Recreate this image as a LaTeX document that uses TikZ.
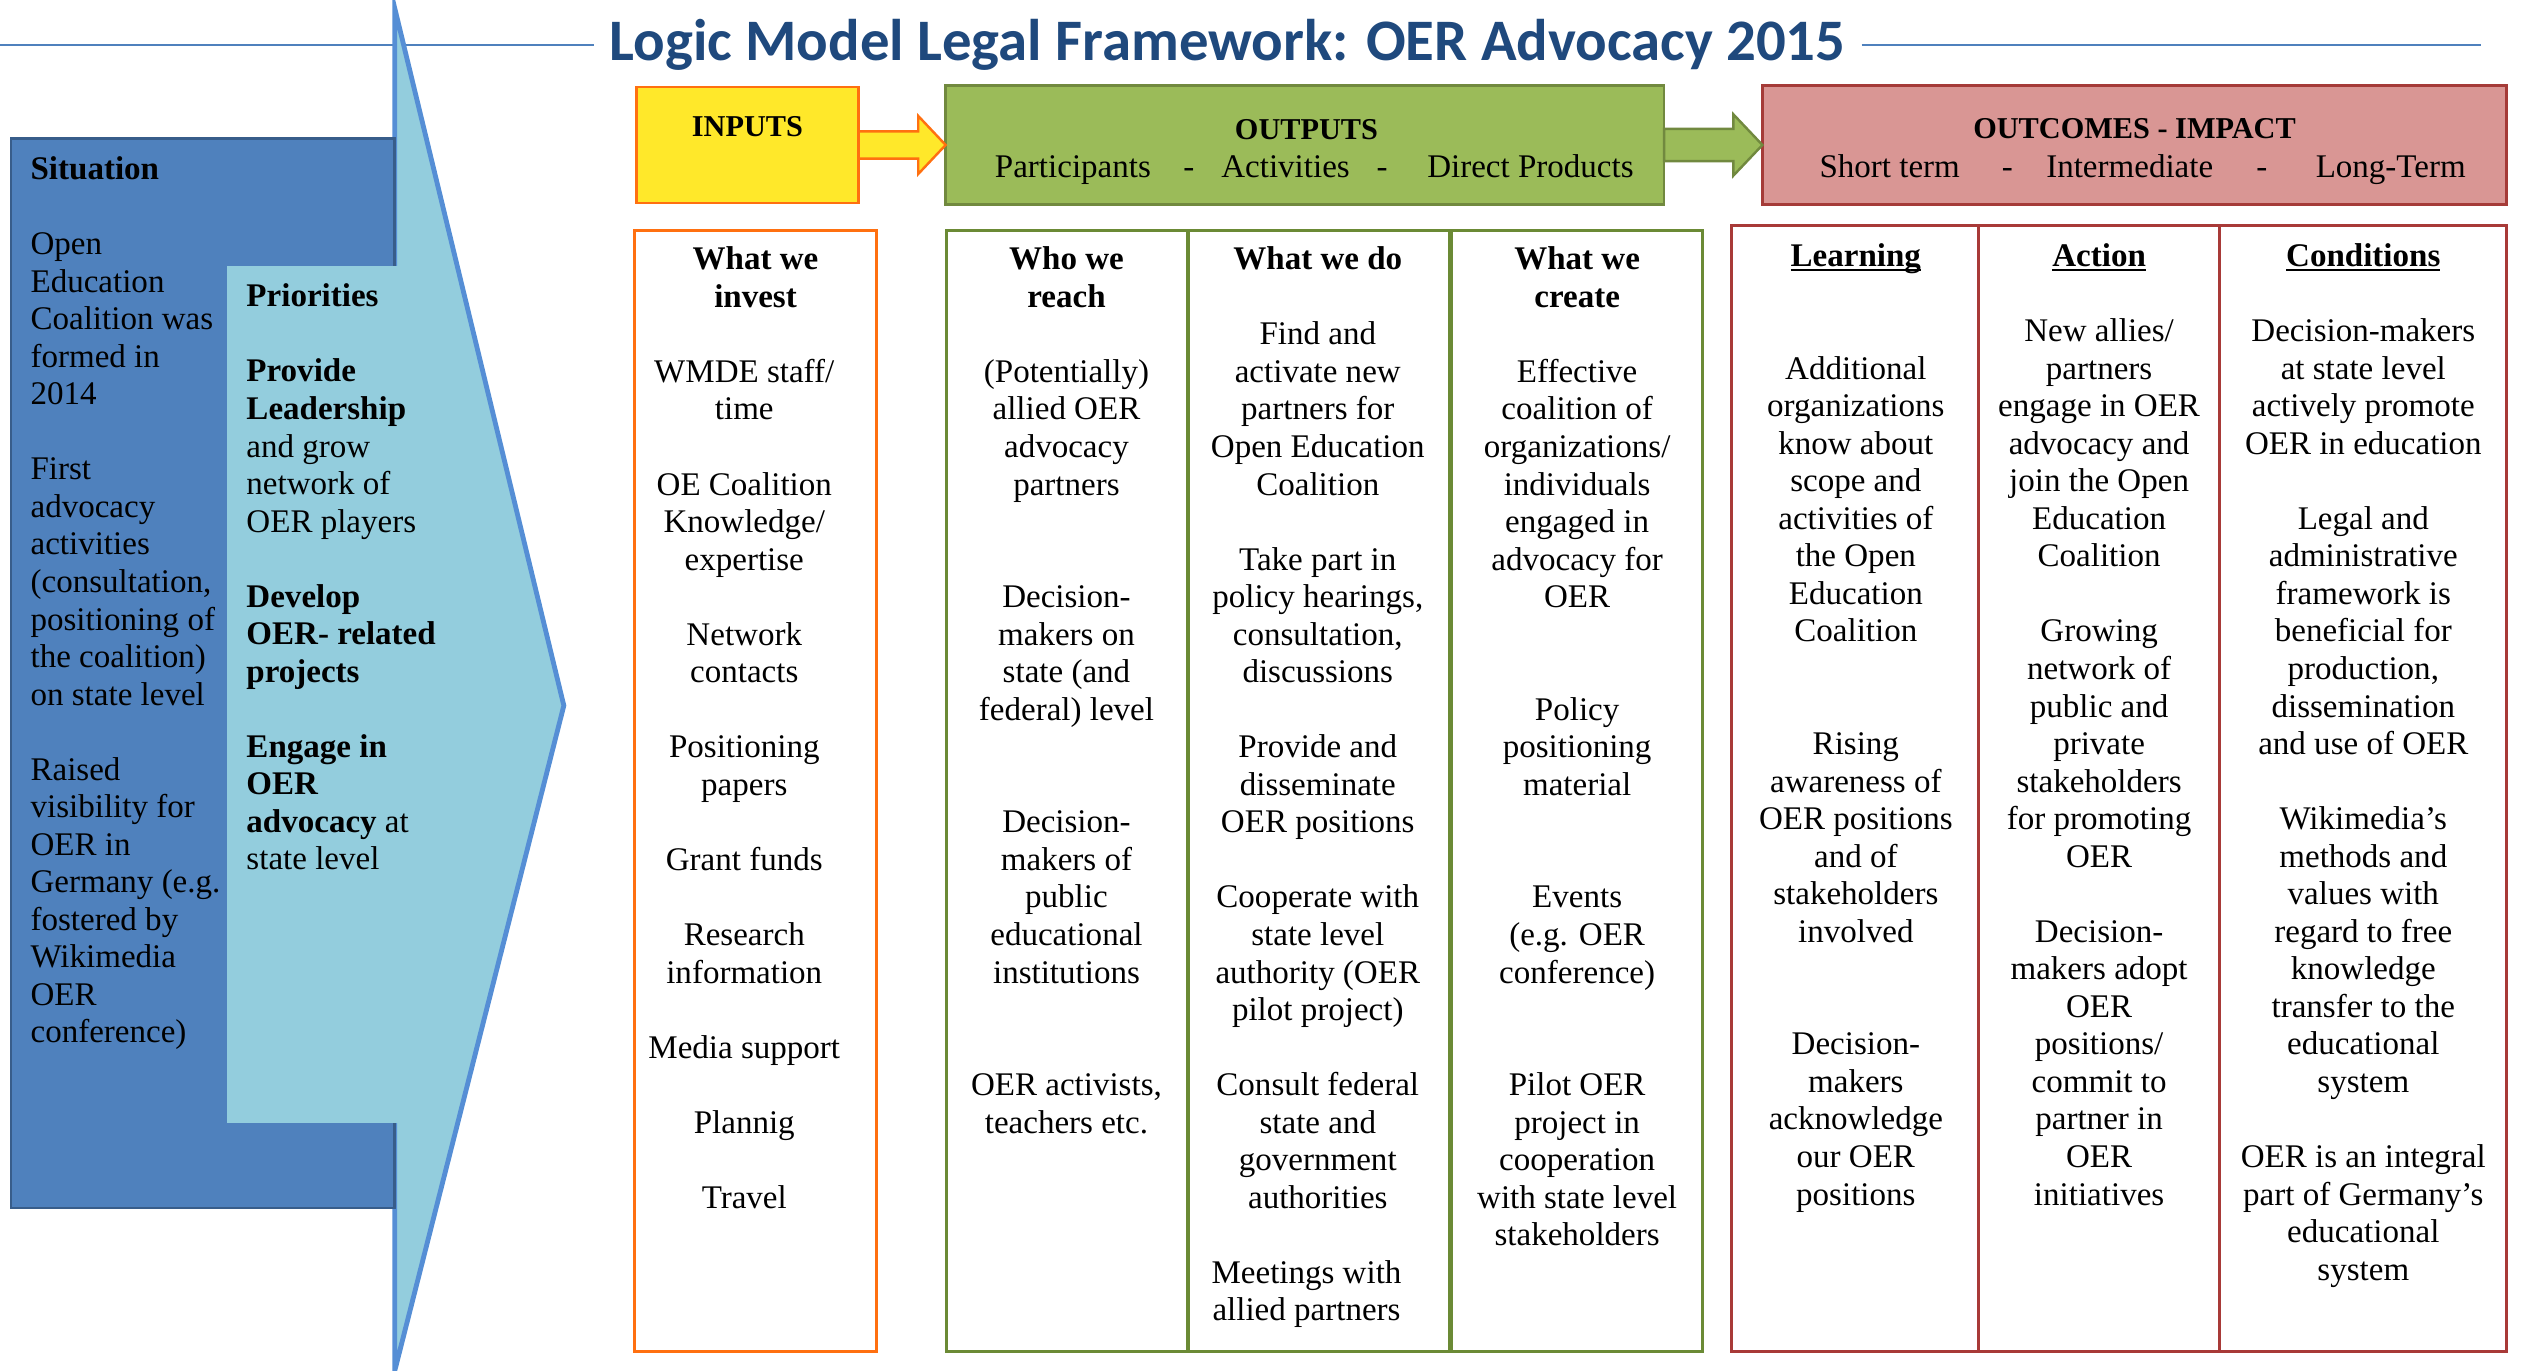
\documentclass[tikz,border=0pt]{standalone}
\usepackage{fontspec}
\setmainfont{Liberation Serif}
\newfontfamily\titlefont{Carlito}
\usetikzlibrary{calc}
\definecolor{titleblue}{HTML}{1F497D}
\definecolor{lineblue}{HTML}{4F81BD}
\definecolor{sitblue}{HTML}{4F81BD}
\definecolor{sitborder}{HTML}{385D8A}
\definecolor{lightblue}{HTML}{93CDDD}
\definecolor{chevblue}{HTML}{558ED5}
\definecolor{inyellow}{HTML}{FFE82A}
\definecolor{inorange}{HTML}{FF7010}
\definecolor{outgreen}{HTML}{9BBB59}
\definecolor{outborder}{HTML}{71893F}
\definecolor{colgreen}{HTML}{6B8A35}
\definecolor{ocpink}{HTML}{D99694}
\definecolor{ocborder}{HTML}{A53B38}
\definecolor{colred}{HTML}{A83A38}
\newcommand{\bl}{\\[23.3pt]}
\newcommand{\bll}{\\[46.6pt]}
\newcommand{\ctext}[1]{\parbox[t]{200pt}{\centering\fontsize{20.5}{23.3}\selectfont\lineskiplimit=-30pt\relax #1}}
\newcommand{\ltext}[1]{\parbox[t]{200pt}{\raggedright\fontsize{20.5}{23.3}\selectfont\lineskiplimit=-30pt\relax #1}}
\newcommand{\ulb}[1]{\leavevmode\setbox0\hbox{\textbf{#1}}\rlap{\rule[-3pt]{\wd0}{1.3pt}}\box0}
\begin{document}
\begin{tikzpicture}[x=1pt,y=-1pt,
  every node/.style={inner sep=0pt,outer sep=0pt},
  colbody/.style={anchor=base},
  lefttext/.style={anchor=base west},
  capfont/.style={anchor=base,font=\bfseries\fontsize{18.8}{22}\selectfont},
  subfont/.style={anchor=base,font=\fontsize{20.5}{23.3}\selectfont},
  inbox/.style={draw=inorange,fill=inyellow,line width=1.5pt,minimum width=138pt,minimum height=72pt},
  outbox/.style={draw=outborder,fill=outgreen,line width=1.5pt,minimum width=446pt,minimum height=74pt},
  ocbox/.style={draw=ocborder,fill=ocpink,line width=1.5pt,minimum width=462pt,minimum height=74pt},
  incol/.style={draw=inorange,line width=1.8pt,minimum width=150pt,minimum height=696pt},
  outcol/.style={draw=colgreen,line width=1.8pt,minimum height=696pt},
  occol/.style={draw=colred,line width=1.8pt,minimum height=699pt},
  yarrow/.style={draw=inorange,fill=inyellow,line width=1.5pt,line join=miter},
  garrow/.style={draw=outborder,fill=outgreen,line width=1.5pt,line join=miter},
  titleline/.style={draw=lineblue,line width=1.6pt}
]
\useasboundingbox (0,0) rectangle (1568,851);

% title
\node[font=\titlefont\bfseries\fontsize{36.5}{40}\selectfont,text=titleblue,inner xsep=10pt] (title) at (762,28) {Logic Model Legal Framework: OER Advocacy 2015};
\coordinate (tl) at (0,28);
\coordinate (tr) at (1540,28);
\draw[titleline] (tl) -- (title.west);
\draw[titleline] (title.east) -- (tr);

% left panel: chevron, situation, priorities
\fill[lightblue] (245,5) -- (350,438) -- (245,851) -- cycle;
\draw[chevblue,line width=3pt,line join=miter] (245,851) -- (245,5) -- (350,438) -- cycle;
\node[draw=sitborder,fill=sitblue,line width=1.5pt,minimum width=238pt,minimum height=664pt] (sit) at (126,418) {};
\node[fill=lightblue,minimum width=106pt,minimum height=532pt] (prio) at (194,431) {};

\node[lefttext] (sittext) at (19,111.5) {\ltext{\textbf{Situation}\bl Open\\Education\\Coalition was\\formed in\\2014\bl First\\advocacy\\activities\\(consultation,\\positioning of\\the coalition)\\on state level\bl Raised\\visibility for\\OER in\\Germany (e.g.\\fostered by\\Wikimedia\\OER\\conference)}};
\node[lefttext] (priotext) at (153,190.5) {\ltext{\textbf{Priorities}\bl \textbf{Provide}\\\textbf{Leadership}\\and grow\\network of\\OER players\bl \textbf{Develop}\\\textbf{OER- related}\\\textbf{projects}\bl \textbf{Engage in}\\\textbf{OER}\\\textbf{advocacy} at\\state level}};

% top boxes
\node[inbox] (inp) at (464,90) {};
\node[outbox] (out) at (810,90) {};
\node[ocbox] (oc) at (1325,90) {};

\draw[yarrow] ($(inp.east)+(0,-8.5)$) -- ($(out.west)+(-17,-8.5)$) -- ($(out.west)+(-17,-18)$) -- (out.west) -- ($(out.west)+(-17,18)$) -- ($(out.west)+(-17,8.5)$) -- ($(inp.east)+(0,8.5)$) -- cycle;
\draw[garrow] ($(out.east)+(0,-10)$) -- ($(oc.west)+(-18,-10)$) -- ($(oc.west)+(-18,-19)$) -- (oc.west) -- ($(oc.west)+(-18,19)$) -- ($(oc.west)+(-18,10)$) -- ($(out.east)+(0,10)$) -- cycle;

\node[capfont] (inpl) at (464,85) {INPUTS};
\node[capfont] (outl) at (811,86.5) {OUTPUTS};
\node[subfont] (op1) at (666,110) {Participants};
\node[subfont] (op2) at (738,110) {-};
\node[subfont] (op3) at (798,110) {Activities};
\node[subfont] (op4) at (858,110) {-};
\node[subfont] (op5) at (950,110) {Direct Products};
\node[capfont] (ocl) at (1325,86) {OUTCOMES - IMPACT};
\node[subfont] (oc1) at (1173,110) {Short term};
\node[subfont] (oc2) at (1246,110) {-};
\node[subfont] (oc3) at (1322,110) {Intermediate};
\node[subfont] (oc4) at (1404,110) {-};
\node[subfont] (oc5) at (1484,110) {Long-Term};

% column boxes
\node[incol] (cin) at (469,491) {};
\node[outcol,minimum width=149.5pt] (cwho) at (662.25,491) {};
\node[outcol,minimum width=161.5pt] (cdo) at (818.75,491) {};
\node[outcol,minimum width=156pt] (ccr) at (979,491) {};
\node[occol,minimum width=153pt] (clea) at (1151.5,489.5) {};
\node[occol,minimum width=150pt] (cact) at (1303,489.5) {};
\node[occol,minimum width=178pt] (ccon) at (1467,489.5) {};

% column texts
\node[colbody] (tinh) at (469,167.5) {\ctext{\textbf{What we}\\\textbf{invest}}};
\node[colbody] (tinb) at (462,237.4) {\ctext{WMDE staff/\\time\bl OE Coalition\\Knowledge/\\expertise\bl Network\\contacts\bl Positioning\\papers\bl Grant funds\bl Research\\information\bl Media support\bl Plannig\bl Travel}};
\node[colbody] (twho) at (662,167.5) {\ctext{\textbf{Who we}\\\textbf{reach}\bl (Potentially)\\allied OER\\advocacy\\partners\bll Decision-\\makers on\\state (and\\federal) level\bll Decision-\\makers of\\public\\educational\\institutions\bll OER activists,\\teachers etc.}};
\node[colbody] (tdo) at (818,167.5) {\ctext{\textbf{What we do}\bl Find and\\activate new\\partners for\\Open Education\\Coalition\bl Take part in\\policy hearings,\\consultation,\\discussions\bl Provide and\\disseminate\\OER positions\bl Cooperate with\\state level\\authority (OER\\pilot project)\bl Consult federal\\state and\\government\\authorities}};
\node[colbody] (tdo2) at (811,796.6) {\ctext{Meetings with\\allied partners}};
\node[colbody] (tcr) at (979,167.5) {\ctext{\textbf{What we}\\\textbf{create}\bl Effective\\coalition of\\organizations/\\individuals\\engaged in\\advocacy for\\OER\bll Policy\\positioning\\material\bll Events\\(e.g. OER\\conference)\bll Pilot OER\\project in\\cooperation\\with state level\\stakeholders}};
\node[colbody] (tlea) at (1152,165.5) {\ctext{\ulb{Learning}\bll Additional\\organizations\\know about\\scope and\\activities of\\the Open\\Education\\Coalition\bll Rising\\awareness of\\OER positions\\and of\\stakeholders\\involved\bll Decision-\\makers\\acknowledge\\our OER\\positions}};
\node[colbody] (tact) at (1303,165.5) {\ctext{\ulb{Action}\bl New allies/\\partners\\engage in OER\\advocacy and\\join the Open\\Education\\Coalition\bl Growing\\network of\\public and\\private\\stakeholders\\for promoting\\OER\bl Decision-\\makers adopt\\OER\\positions/\\commit to\\partner in\\OER\\initiatives}};
\node[colbody] (tcon) at (1467,165.5) {\ctext{\ulb{Conditions}\bl Decision-makers\\at state level\\actively promote\\OER in education\bl Legal and\\administrative\\framework is\\beneficial for\\production,\\dissemination\\and use of OER\bl Wikimedia’s\\methods and\\values with\\regard to free\\knowledge\\transfer to the\\educational\\system\bl OER is an integral\\part of Germany’s\\educational\\system}};
\end{tikzpicture}
\end{document}
